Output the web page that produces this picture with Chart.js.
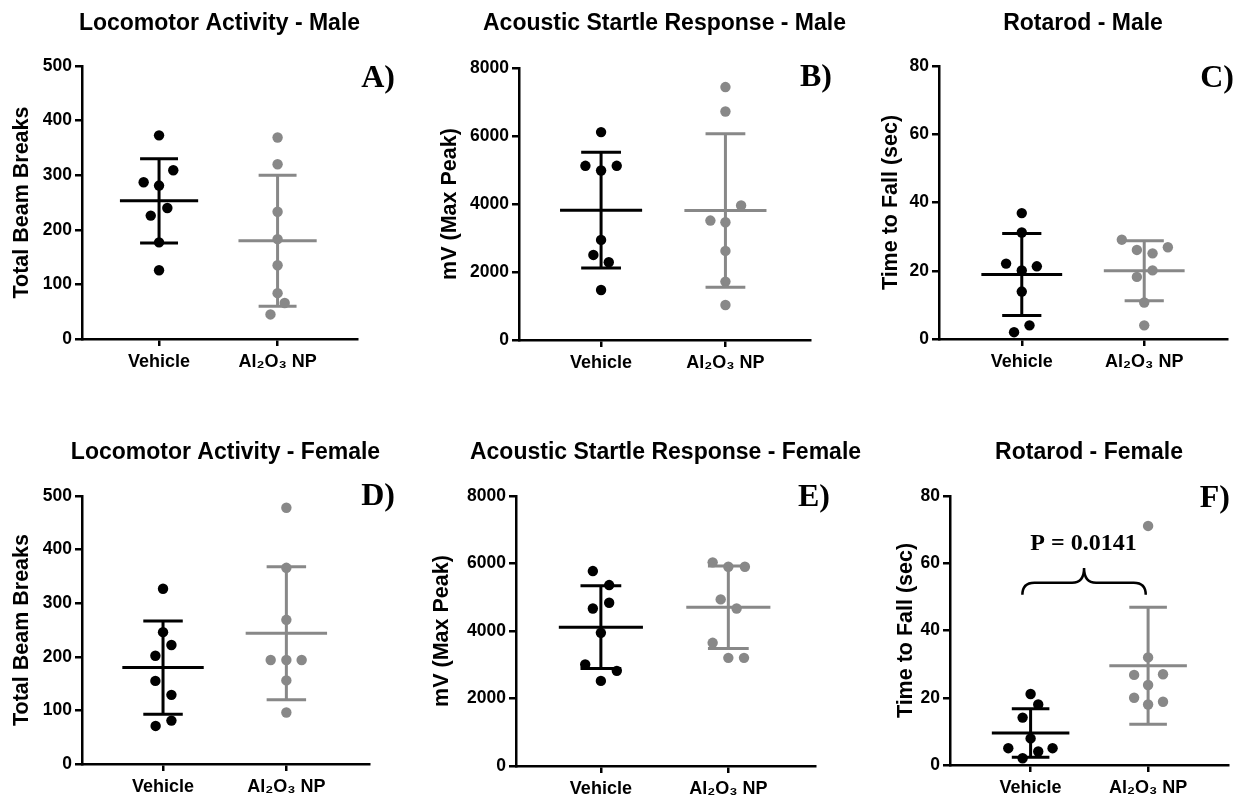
<!DOCTYPE html>
<html>
<head>
<meta charset="utf-8">
<script src="https://cdn.jsdelivr.net/npm/chart.js@4.4.0/dist/chart.umd.min.js"></script>
<style>
  body { margin: 0; background: #fff; width: 1248px; height: 802px; position: relative; overflow: hidden; }
  canvas { position: absolute; }
</style>
</head>
<body>
<canvas id="pA" width="420" height="401" style="left:0;top:0"></canvas>
<canvas id="pB" width="450" height="401" style="left:420px;top:0"></canvas>
<canvas id="pC" width="408" height="401" style="left:840px;top:0"></canvas>
<canvas id="pD" width="420" height="401" style="left:0;top:401px"></canvas>
<canvas id="pE" width="470" height="401" style="left:420px;top:401px"></canvas>
<canvas id="pF" width="408" height="401" style="left:840px;top:401px"></canvas>
<script>
// groups on the x axis
var groups = ['Vehicle', 'Al\u2082O\u2083 NP'];

// A) locomotor activity - male
var locoMaleVeh = [373, 309, 287, 281, 240, 226, 177, 126];
var locoMaleVehJit = [0, 0.12, -0.13, 0, 0.07, -0.07, 0, 0];
var locoMaleAl = [369, 320, 233, 183, 135, 84, 66, 45];
var locoMaleAlJit = [0, 0, 0, 0, 0, 0, 0.06, -0.06];
var locoMaleMean = [253, 180];
var locoMaleSd = [77, 120];

// B) acoustic startle - male
var startleMaleVeh = [6114, 5123, 5123, 4985, 2944, 2502, 2287, 1472];
var startleMaleVehJit = [0, -0.126, 0.126, 0, 0, -0.062, 0.062, 0];
var startleMaleAl = [7439, 6722, 3955, 3513, 3464, 2620, 1717, 1030];
var startleMaleAlJit = [0, 0, 0.126, -0.121, 0, 0, 0, 0];
var startleMaleMean = [3817, 3808];
var startleMaleSd = [1702, 2257];

// C) rotarod - male
var rotaMaleVeh = [36.9, 31.2, 22.1, 21.3, 20.1, 13.9, 4.0, 2.0];
var rotaMaleVehJit = [0, 0, -0.128, 0.123, 0, 0, 0.063, -0.063];
var rotaMaleAl = [29.1, 26.9, 26.1, 25.1, 20.1, 18.2, 10.7, 4.0];
var rotaMaleAlJit = [-0.183, 0.193, -0.06, 0.068, 0.068, -0.06, 0, 0];
var rotaMaleMean = [18.9, 20.0];
var rotaMaleSd = [12.0, 8.8];

// D) locomotor activity - female
var locoFemVeh = [327, 246, 222, 202, 155, 129, 81, 71];
var locoFemVehJit = [0, 0, 0.068, -0.062, -0.062, 0.068, 0.068, -0.06];
var locoFemAl = [478, 366, 269, 194, 194, 194, 156, 96];
var locoFemAlJit = [0, 0, 0, -0.127, 0, 0.124, 0, 0];
var locoFemMean = [180, 244];
var locoFemSd = [87, 124];

// E) acoustic startle - female
var startleFemVeh = [5776, 5361, 4837, 4668, 3946, 3007, 2819, 2522];
var startleFemVehJit = [-0.063, 0.065, 0.065, -0.063, 0, -0.123, 0.125, 0];
var startleFemAl = [6034, 5905, 5905, 4936, 4668, 3650, 3205, 3205];
var startleFemAlJit = [-0.123, 0, 0.13, -0.06, 0.065, -0.123, 0, 0.123];
var startleFemMean = [4114, 4703];
var startleFemSd = [1226, 1221];

// F) rotarod - female
var rotaFemVeh = [21.1, 18.0, 14.1, 7.9, 5.0, 5.0, 4.0, 2.0];
var rotaFemVehJit = [0, 0.065, -0.068, 0, -0.19, 0.187, 0.065, -0.068];
var rotaFemAl = [71.1, 32.0, 26.8, 27.0, 23.8, 20.0, 18.8, 18.0];
var rotaFemAlJit = [0, 0, -0.119, 0.127, 0, -0.119, 0.127, 0];
var rotaFemMean = [9.5, 29.5];
var rotaFemSd = [7.2, 17.4];

// significance brace in F (x: start, peak, end / y: ends, flat, peak)
var braceX = [0.93, 1.455, 1.98];
var braceY = [50.6, 54.2, 58.6];
var pText = 'P = 0.0141';
var pTextPos = [1.45, 64];

var SANS = "'Liberation Sans', Arial, sans-serif";
var SERIF = "'Liberation Serif', 'Times New Roman', serif";
var GREY = '#888888';

function toPoints(center, vals, jit) {
  var out = [];
  for (var i = 0; i < vals.length; i++) {
    out.push({x: center + jit[i], y: vals[i]});
  }
  return out;
}

// mean line, SD whisker and caps, broken with NaN gaps
function errorBars(center, mean, sd) {
  var w = 0.33, c = 0.16;
  return [
    {x: center - w, y: mean}, {x: center + w, y: mean}, {x: center, y: NaN},
    {x: center, y: mean + sd}, {x: center, y: mean - sd}, {x: center, y: NaN},
    {x: center - c, y: mean + sd}, {x: center + c, y: mean + sd}, {x: center, y: NaN},
    {x: center - c, y: mean - sd}, {x: center + c, y: mean - sd}
  ];
}

function decor(p) {
  return {
    id: 'decor',
    afterDraw: function(chart) {
      var ctx = chart.ctx;
      var a = chart.chartArea;
      ctx.save();
      ctx.fillStyle = '#000';
      ctx.textAlign = 'center';
      ctx.textBaseline = 'alphabetic';
      ctx.font = 'bold 23px ' + SANS;
      ctx.fillText(p.title, (a.left + a.right) / 2, p.titleY);

      ctx.textAlign = 'right';
      ctx.font = 'bold 32px ' + SERIF;
      ctx.fillText(p.letter, p.letterPos[0], p.letterPos[1]);

      if (p.brace) {
        var xs = chart.scales.x, ys = chart.scales.y;
        var x0 = xs.getPixelForValue(braceX[0]);
        var xm = xs.getPixelForValue(braceX[1]);
        var x1 = xs.getPixelForValue(braceX[2]);
        var yE = ys.getPixelForValue(braceY[0]);
        var yF = ys.getPixelForValue(braceY[1]);
        var yP = ys.getPixelForValue(braceY[2]);
        var r = 12;
        ctx.beginPath();
        ctx.lineWidth = 2.5;
        ctx.strokeStyle = '#000';
        ctx.moveTo(x0, yE);
        ctx.quadraticCurveTo(x0, yF, x0 + r, yF);
        ctx.lineTo(xm - r, yF);
        ctx.quadraticCurveTo(xm, yF, xm, yP);
        ctx.quadraticCurveTo(xm, yF, xm + r, yF);
        ctx.lineTo(x1 - r, yF);
        ctx.quadraticCurveTo(x1, yF, x1, yE);
        ctx.stroke();

        ctx.textAlign = 'center';
        ctx.font = 'bold 24px ' + SERIF;
        ctx.fillText(pText, xs.getPixelForValue(pTextPos[0]), ys.getPixelForValue(pTextPos[1]));
      }
      ctx.restore();
    }
  };
}

function makePanel(p) {
  var ox = p.box[0], oy = p.box[1], cw = p.box[2], ch = p.box[3];
  var L = p.area[0] - ox, T = p.area[1] - oy, R = p.area[2] - ox, B = p.area[3] - oy;
  var xH = 40;
  var lineStyle = {showLine: true, pointRadius: 0, borderWidth: 3, borderCapStyle: 'butt', fill: false};

  new Chart(document.getElementById(p.id), {
    type: 'scatter',
    data: {
      datasets: [
        Object.assign({data: errorBars(1, p.mean[0], p.sd[0]), borderColor: '#000'}, lineStyle),
        Object.assign({data: errorBars(2, p.mean[1], p.sd[1]), borderColor: GREY}, lineStyle),
        {data: toPoints(1, p.veh, p.vehJit), pointRadius: 5.2, pointBackgroundColor: '#000', pointBorderWidth: 0, showLine: false},
        {data: toPoints(2, p.al, p.alJit), pointRadius: 5.2, pointBackgroundColor: GREY, pointBorderWidth: 0, showLine: false}
      ]
    },
    options: {
      responsive: false,
      animation: false,
      events: [],
      layout: {padding: {left: 0, top: T, right: cw - R, bottom: ch - B - xH}},
      plugins: {legend: {display: false}, tooltip: {enabled: false}},
      scales: {
        x: {
          type: 'linear',
          min: p.xRange[0],
          max: p.xRange[1],
          afterBuildTicks: function(s) { s.ticks = [{value: 1}, {value: 2}]; },
          afterFit: function(s) { s.height = xH; },
          ticks: {
            callback: function(v, i) { return groups[i]; },
            font: {family: SANS, size: 18, weight: 'bold'},
            color: '#000', padding: 5, maxRotation: 0, autoSkip: false
          },
          grid: {drawOnChartArea: false, tickLength: 7, color: '#000', lineWidth: 2.5},
          border: {color: '#000', width: 2.5}
        },
        y: {
          min: 0,
          max: p.yMax,
          afterFit: function(s) { s.width = L; },
          ticks: {
            stepSize: p.yStep,
            callback: function(v) { return String(v); },
            font: {family: SANS, size: 17.5, weight: 'bold'},
            color: '#000', padding: 3
          },
          grid: {drawOnChartArea: false, tickLength: 7, color: '#000', lineWidth: 2.5},
          border: {color: '#000', width: 2.5},
          title: {
            display: true, text: p.yTitle, color: '#000',
            font: {family: SANS, size: 21.5, weight: 'bold'},
            padding: {top: p.yTitlePad, bottom: 0}
          }
        }
      }
    },
    plugins: [decor(p)]
  });
}

makePanel({id: 'pA', box: [0, 0, 420, 401], area: [82, 66, 357, 339], xRange: [0.35, 2.67],
  title: 'Locomotor Activity - Male', titleY: 30, letter: 'A)', letterPos: [395, 87],
  yTitle: 'Total Beam Breaks', yTitlePad: 9.1, yMax: 500, yStep: 100,
  veh: locoMaleVeh, vehJit: locoMaleVehJit, al: locoMaleAl, alJit: locoMaleAlJit, mean: locoMaleMean, sd: locoMaleSd});

makePanel({id: 'pB', box: [420, 0, 450, 401], area: [519, 68, 810, 340], xRange: [0.34, 2.68],
  title: 'Acoustic Startle Response - Male', titleY: 30, letter: 'B)', letterPos: [412, 86],
  yTitle: 'mV (Max Peak)', yTitlePad: 17.1, yMax: 8000, yStep: 2000,
  veh: startleMaleVeh, vehJit: startleMaleVehJit, al: startleMaleAl, alJit: startleMaleAlJit, mean: startleMaleMean, sd: startleMaleSd});

makePanel({id: 'pC', box: [840, 0, 408, 401], area: [939, 66, 1227, 339], xRange: [0.324, 2.676],
  title: 'Rotarod - Male', titleY: 30, letter: 'C)', letterPos: [394, 87],
  yTitle: 'Time to Fall (sec)', yTitlePad: 37.8, yMax: 80, yStep: 20,
  veh: rotaMaleVeh, vehJit: rotaMaleVehJit, al: rotaMaleAl, alJit: rotaMaleAlJit, mean: rotaMaleMean, sd: rotaMaleSd});

makePanel({id: 'pD', box: [0, 401, 420, 401], area: [82, 496, 369, 764], xRange: [0.343, 2.67],
  title: 'Locomotor Activity - Female', titleY: 58, letter: 'D)', letterPos: [395, 104],
  yTitle: 'Total Beam Breaks', yTitlePad: 9.1, yMax: 500, yStep: 100,
  veh: locoFemVeh, vehJit: locoFemVehJit, al: locoFemAl, alJit: locoFemAlJit, mean: locoFemMean, sd: locoFemSd});

makePanel({id: 'pE', box: [420, 401, 470, 401], area: [516, 496, 815, 766], xRange: [0.334, 2.68],
  title: 'Acoustic Startle Response - Female', titleY: 58, letter: 'E)', letterPos: [410, 105],
  yTitle: 'mV (Max Peak)', yTitlePad: 9.1, yMax: 8000, yStep: 2000,
  veh: startleFemVeh, vehJit: startleFemVehJit, al: startleFemAl, alJit: startleFemAlJit, mean: startleFemMean, sd: startleFemSd});

makePanel({id: 'pF', box: [840, 401, 408, 401], area: [950, 496, 1228, 765], xRange: [0.314, 2.68],
  title: 'Rotarod - Female', titleY: 58, letter: 'F)', letterPos: [390, 106],
  yTitle: 'Time to Fall (sec)', yTitlePad: 53.1, yMax: 80, yStep: 20, brace: true,
  veh: rotaFemVeh, vehJit: rotaFemVehJit, al: rotaFemAl, alJit: rotaFemAlJit, mean: rotaFemMean, sd: rotaFemSd});
</script>
</body>
</html>
